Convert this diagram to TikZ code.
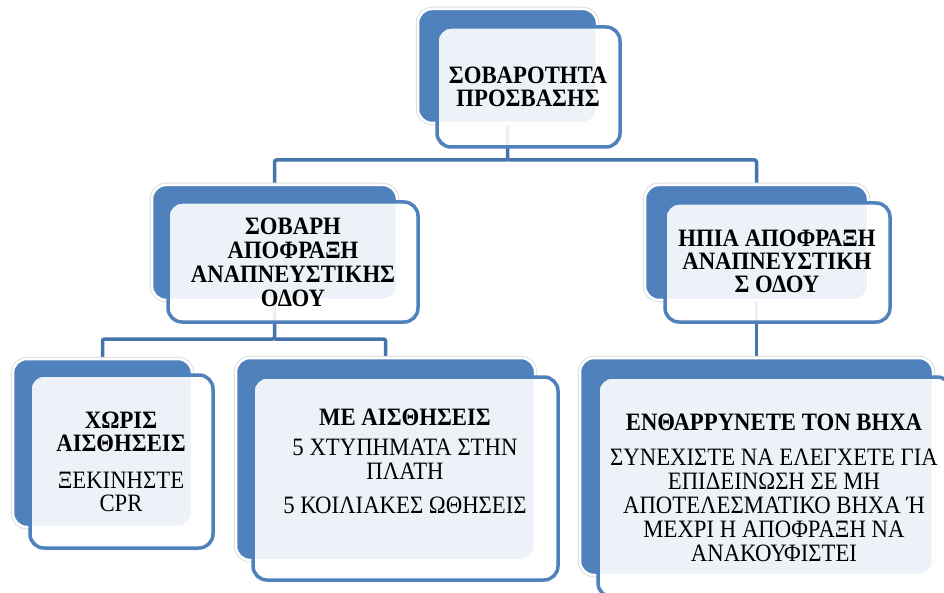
\documentclass[tikz,border=0pt]{standalone}
\usepackage{fontspec}
\setmainfont{Liberation Serif}[FakeStretch=0.91]
\pgfdeclarelayer{bg}
\pgfsetlayers{bg,main}
\definecolor{accent}{RGB}{79,129,189}
\definecolor{connc}{RGB}{70,116,172}
\tikzset{
  backbox/.style={rectangle, rounded corners=14pt, fill=accent,
    preaction={draw=black!13, line width=4.5pt},
    draw=white, line width=2.5pt, inner sep=0pt, outer sep=0pt, anchor=north west},
  frontbox/.style={rectangle, rounded corners=14pt, fill=white, fill opacity=0.9,
    draw=accent, line width=3.5pt, inner sep=0pt, outer sep=0pt, anchor=north west},
  conn/.style={draw=connc, line width=3.5pt, rounded corners=2pt},
  boxtext/.style={align=center, font=\fontsize{25}{24}\selectfont, inner sep=0pt, text=black},
}
\begin{document}
\begin{tikzpicture}[x=1pt,y=1pt]
\clip (0,0) rectangle (944,-593);
% level 0
\node[backbox, minimum width=179pt, minimum height=114pt] (b0) at (418,-9) {};
\node[frontbox, minimum width=183pt, minimum height=120pt] (f0) at (437,-27) {};
% level 1
\node[backbox, minimum width=245pt, minimum height=115pt] (b1) at (152,-185) {};
\node[frontbox, minimum width=250pt, minimum height=120pt] (f1) at (168,-202) {};
\node[backbox, minimum width=223pt, minimum height=115pt] (b2) at (645,-185) {};
\node[frontbox, minimum width=225pt, minimum height=119pt] (f2) at (665,-203) {};
% level 2
\node[backbox, minimum width=179pt, minimum height=168pt] (b3) at (13,-359) {};
\node[frontbox, minimum width=183pt, minimum height=173pt] (f3) at (30,-375) {};
\node[backbox, minimum width=299pt, minimum height=202pt] (b4) at (236,-358) {};
\node[frontbox, minimum width=305pt, minimum height=203pt] (f4) at (253,-377) {};
\node[backbox, minimum width=353pt, minimum height=217pt] (b5) at (580,-358) {};
\node[frontbox, minimum width=353pt, minimum height=220pt] (f5) at (598,-377) {};
% texts
\node[boxtext, font=\fontsize{25}{23}\selectfont\bfseries] (t0) at (528,-87) {ΣΟΒΑΡΟΤΗΤΑ\\ΠΡΟΣΒΑΣΗΣ};
\node[boxtext, font=\fontsize{25}{24}\selectfont\bfseries] (t1) at (293,-262) {ΣΟΒΑΡΗ\\ΑΠΟΦΡΑΞΗ\\ΑΝΑΠΝΕΥΣΤΙΚΗΣ\\ΟΔΟΥ};
\node[boxtext, font=\fontsize{25}{23}\selectfont\bfseries] (t2) at (777,-261) {ΗΠΙΑ ΑΠΟΦΡΑΞΗ\\ΑΝΑΠΝΕΥΣΤΙΚΗ\\Σ ΟΔΟΥ};
\node[boxtext, font=\fontsize{25}{23}\selectfont] (t3) at (121,-462) {\textbf{ΧΩΡΙΣ}\\\textbf{ΑΙΣΘΗΣΕΙΣ}\\[14pt]ΞΕΚΙΝΗΣΤΕ\\CPR};
\node[boxtext] (t4) at (405,-461) {\textbf{ΜΕ ΑΙΣΘΗΣΕΙΣ}\\[6pt]5 ΧΤΥΠΗΜΑΤΑ ΣΤΗΝ\\ΠΛΑΤΗ\\[10pt]5 ΚΟΙΛΙΑΚΕΣ ΩΘΗΣΕΙΣ};
\node[boxtext] (t5) at (774,-488) {\textbf{ΕΝΘΑΡΡΥΝΕΤΕ ΤΟΝ ΒΗΧΑ}\\[11pt]ΣΥΝΕΧΙΣΤΕ ΝΑ ΕΛΕΓΧΕΤΕ ΓΙΑ\\ΕΠΙΔΕΙΝΩΣΗ ΣΕ ΜΗ\\ΑΠΟΤΕΛΕΣΜΑΤΙΚΟ ΒΗΧΑ Ή\\ΜΕΧΡΙ Η ΑΠΟΦΡΑΞΗ ΝΑ\\ΑΝΑΚΟΥΦΙΣΤΕΙ};
% connectors
\coordinate (bus0) at (0,-160);
\coordinate (bus1) at (0,-339);
\begin{pgfonlayer}{bg}
\fill[white] (0,0) rectangle (944,-593);
\draw[conn] (b0.south) -- (b0.south |- bus0) -| (b1.north);
\draw[conn] (b0.south |- bus0) -| (b2.north);
\draw[conn] (b1.south) -- (b1.south |- bus1) -| (b3.north);
\draw[conn] (b1.south |- bus1) -| (b4.north);
\draw[conn] (b2.south) -- (b5.north);
\end{pgfonlayer}
\end{tikzpicture}
\end{document}
